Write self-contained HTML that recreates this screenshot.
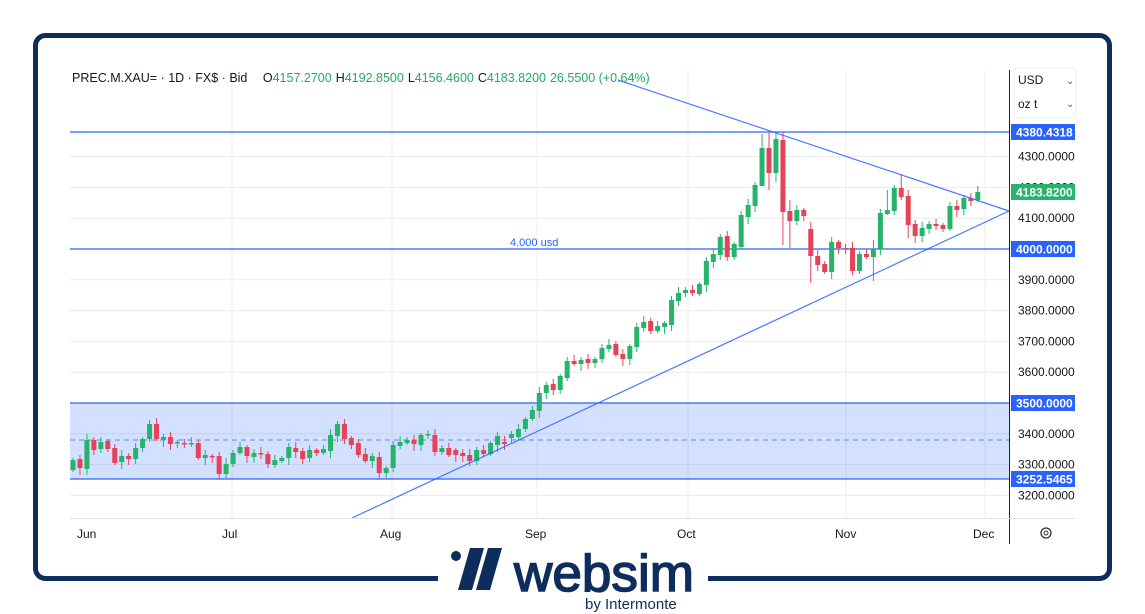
<!DOCTYPE html>
<html><head><meta charset="utf-8"><style>
body{margin:0;width:1145px;height:614px;background:#fff;overflow:hidden;font-family:"Liberation Sans",sans-serif}
svg{position:absolute;left:0;top:0}
</style></head><body>
<svg id="s" width="1145" height="614" xmlns="http://www.w3.org/2000/svg" font-family="Liberation Sans, sans-serif">
<rect x="35.5" y="35.5" width="1074" height="543" rx="10" fill="#fff" stroke="#0f2d5c" stroke-width="5"/>
<g id="grid" stroke="#ececec" stroke-width="1"></g>
<rect x="70" y="403" width="939" height="76" fill="#2962ff" fill-opacity="0.2"/>
<g stroke="#2962ff" stroke-width="1.3">
<line x1="70" y1="132" x2="1009" y2="132"/>
<line x1="70" y1="249" x2="1009" y2="249"/>
<line x1="70" y1="403" x2="1009" y2="403"/>
<line x1="70" y1="479" x2="1009" y2="479"/>
</g>
<line x1="70" y1="440" x2="1009" y2="440" stroke="#2962ff" stroke-opacity="0.7" stroke-dasharray="5,4"/>
<text x="510" y="246" font-size="11" fill="#2962ff">4.000 usd</text>
<g id="c"></g>
<line x1="618" y1="80" x2="1009" y2="211" stroke="#2962ff" stroke-opacity="0.85" stroke-width="1.2"/>
<line x1="352" y1="518" x2="1009" y2="211" stroke="#2962ff" stroke-opacity="0.85" stroke-width="1.2"/>
<line x1="1009.5" y1="70" x2="1009.5" y2="544" stroke="#222" stroke-width="1"/>
<line x1="70" y1="518.5" x2="1075" y2="518.5" stroke="#e0e0e0"/>
<text x="72" y="82" font-size="12.5" fill="#131722">PREC.M.XAU= · 1D · FX$ · Bid <tspan dx="12">O</tspan><tspan fill="#22ab5e">4157.2700</tspan><tspan dx="4">H</tspan><tspan fill="#22ab5e">4192.8500</tspan><tspan dx="4">L</tspan><tspan fill="#22ab5e">4156.4600</tspan><tspan dx="4">C</tspan><tspan fill="#22ab5e">4183.8200</tspan><tspan dx="4" fill="#22ab5e">26.5500 (+0.64%)</tspan></text>
<rect x="1014" y="68" width="62" height="50" rx="3" fill="#fff" stroke="#eee"/>
<text x="1018" y="84" font-size="12" fill="#131722">USD</text><text x="1066" y="84" font-size="10" fill="#555">⌄</text>
<text x="1018" y="108" font-size="12" fill="#131722">oz t</text><text x="1066" y="107" font-size="10" fill="#555">⌄</text>
<g id="ax" font-size="12" fill="#131722"></g>
<g font-size="12" fill="#fff" font-weight="bold">
<rect x="1011" y="124" width="64" height="16" fill="#2962ff"/><text x="1016" y="136.5">4380.4318</text>
<rect x="1011" y="184" width="64" height="16" fill="#26b36a"/><text x="1016" y="196.5">4183.8200</text>
<rect x="1011" y="241" width="64" height="16" fill="#2962ff"/><text x="1016" y="253.5">4000.0000</text>
<rect x="1011" y="395" width="64" height="16" fill="#2962ff"/><text x="1016" y="407.5">3500.0000</text>
<rect x="1011" y="471" width="64" height="16" fill="#2962ff"/><text x="1016" y="483.5">3252.5465</text>
</g>
<g font-size="12" fill="#131722">
<text x="77" y="538">Jun</text><text x="222" y="538">Jul</text><text x="380" y="538">Aug</text><text x="525" y="538">Sep</text><text x="677" y="538">Oct</text><text x="835" y="538">Nov</text><text x="973" y="538">Dec</text>
</g>
<circle cx="1046" cy="533" r="5" fill="none" stroke="#333" stroke-width="1.3"/><circle cx="1046" cy="533" r="2" fill="none" stroke="#333"/>
<rect x="438" y="560" width="270" height="54" fill="#fff"/>
<circle cx="456" cy="556" r="5" fill="#0f2d5c"/>
<polygon points="470,548 484,548 472,590 458,590" fill="#0f2d5c"/>
<polygon points="488,548 502,548 490,590 476,590" fill="#0f2d5c"/>
<text x="514" y="591" font-size="52" fill="#0f2d5c" stroke="#0f2d5c" stroke-width="1.5" textLength="180" lengthAdjust="spacingAndGlyphs">websim</text>
<text x="585" y="609" font-size="15" fill="#0f2d5c">by Intermonte</text>
</svg>
<script>
var ns="http://www.w3.org/2000/svg";
function el(p,t,a){var e=document.createElementNS(ns,t);for(var k in a)e.setAttribute(k,a[k]);p.appendChild(e);return e;}
var g=document.getElementById('grid'),ax=document.getElementById('ax');
for(var p=3200;p<=4300;p+=100){var y=249+(4000-p)*0.308;el(g,'line',{x1:70,x2:1009,y1:y,y2:y});
 if(p!=4000&&p!=3500){var t=el(ax,'text',{x:1018,y:y+4});t.textContent=p+'.0000';}}
[232,392,537,688,846,985].forEach(function(x){el(g,'line',{x1:x,x2:x,y1:70,y2:518});});
var oc=[[460,470,1],[459,468,0],[469,440,1],[440,450,0],[449,442,1],[441,449,0],[448,463,0],[462,456,1],[456,459,0],[459,448,1],[448,439,1],[439,424,1],[424,439,0],[440,437,1],[437,444,0],[443,442,1],[443,444,0],[444,443,1],[443,458,0],[458,455,1],[456,457,0],[456,474,0],[474,464,1],[464,453,1],[453,447,1],[447,456,0],[457,453,1],[453,454,0],[454,464,0],[465,460,1],[461,458,1],[458,447,1],[448,452,0],[451,459,0],[458,450,1],[450,453,0],[453,449,1],[451,435,1],[436,424,1],[424,439,0],[438,445,0],[443,455,0],[454,461,0],[461,456,1],[457,473,0],[473,468,1],[468,445,1],[446,442,1],[443,440,1],[440,444,0],[445,435,1],[434,434,1],[435,452,0],[452,448,1],[448,455,0],[450,455,0],[453,456,0],[455,461,0],[461,450,1],[450,454,0],[454,443,1],[445,436,1],[442,444,0],[438,434,1],[437,429,1],
[429,419,1],[419,410,1],[411,393,1],[393,385,1],[384,390,0],[390,376,1],[378,361,1],[361,364,0],[364,360,1],[359,363,0],[363,359,1],[359,348,1],[349,345,1],[344,355,0],[354,359,0],[359,346,1],[347,327,1],[328,322,1],[321,331,0],[331,326,1],[327,323,1],[325,300,1],[301,293,1],[293,290,1],[290,293,0],[294,284,1],[285,261,1],[262,254,1],[255,237,1],[236,257,0],[257,244,1],
[247,215,1],[217,205,1],[206,185,1],[186,148,1],[148,173,0],[173,139,1],[140,212,0],[211,221,0],[221,210,1],[210,216,0],[229,256,0],[256,265,0],[264,272,0],[272,242,1],[242,248,0],[248,249,0],[248,271,0],[271,254,1],[254,257,0],[257,249,1],[249,213,1],[214,210,1],[211,188,1],[188,197,0],[196,225,0],[224,236,0],[236,228,1],[229,224,1],[224,226,0],[225,229,0],[229,206,1],[206,210,0],[209,198,1],[198,201,0],[200,192,1]];
var wk={99:[134,186],100:[132,190],101:[132,182],102:[132,245],103:[200,248],106:[222,283],104:[205,225],107:[250,271],119:[174,200],120:[190,238],115:[240,281],117:[190,215],130:[186,202]};
var c=document.getElementById('c');
oc.forEach(function(d,i){var x=73+6.96*i,o=d[0],cl=d[1],col=d[2]?'#26b36a':'#e5435a';
 var top=Math.min(o,cl),bot=Math.max(o,cl);var w=[2+(i*7)%5,2+(i*5)%6];var hi=top-w[0],lo=bot+w[1];
 if(wk[i]){hi=wk[i][0];lo=wk[i][1];}
 el(c,'line',{x1:x,x2:x,y1:hi,y2:lo,stroke:col,'stroke-width':1});
 el(c,'rect',{x:x-2.5,y:top,width:5,height:Math.max(bot-top,1.5),fill:col});});
</script>
</body></html>
